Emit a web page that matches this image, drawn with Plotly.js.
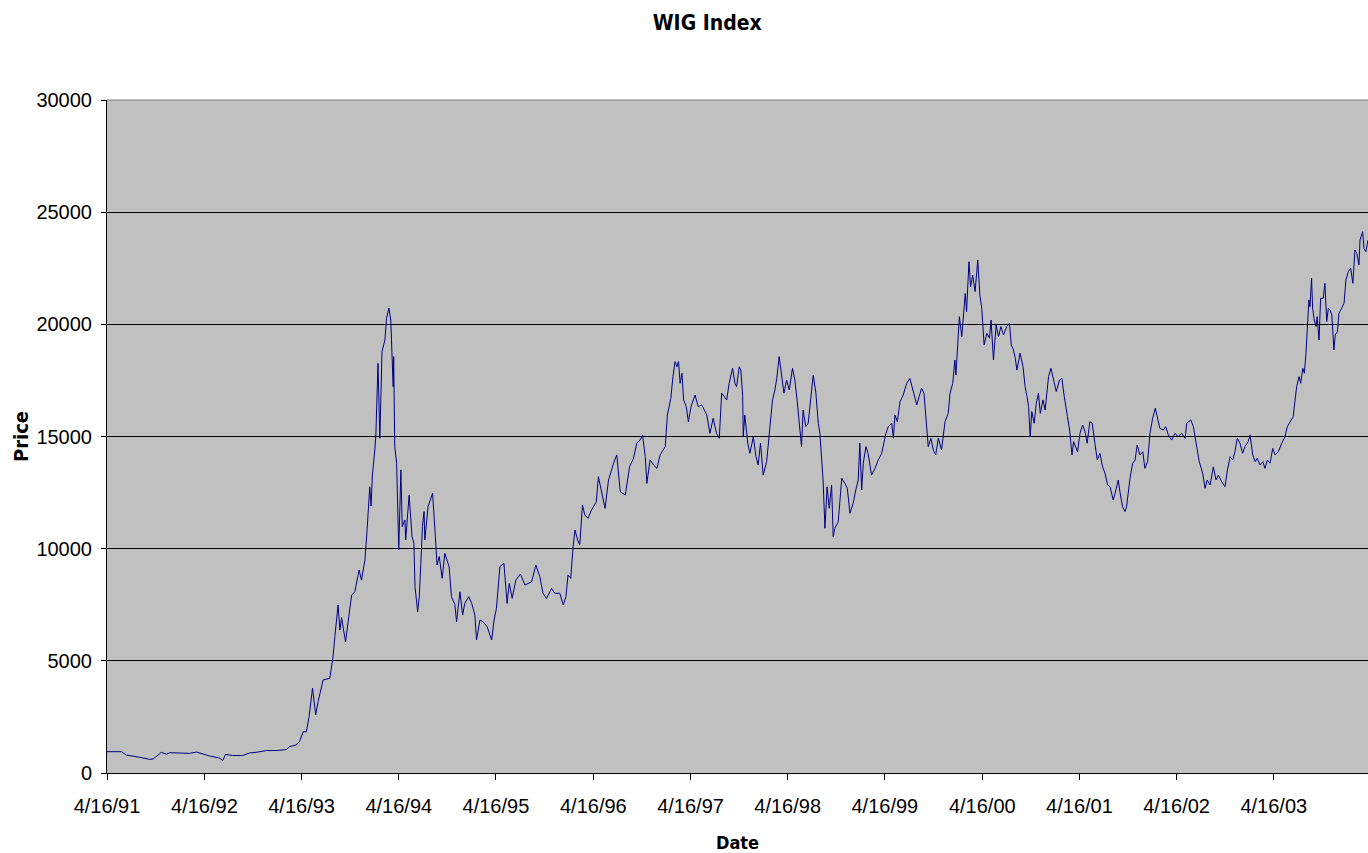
<!DOCTYPE html>
<html>
<head>
<meta charset="utf-8">
<script src="https://cdn.plot.ly/plotly-3.0.1.min.js"></script>
<style>html,body{margin:0;padding:0;background:#fff;}#chart{width:1368px;height:853px;}</style>
</head>
<body>
<div id="chart"></div>
<script>
const dates = [
"1991-04-16","1991-06-09","1991-06-28","1991-07-23","1991-08-17","1991-09-23","1991-10-06","1991-11-06","1991-11-25","1991-12-08",
"1992-01-02","1992-01-27","1992-02-21","1992-03-17","1992-04-11","1992-05-05","1992-06-11","1992-06-24","1992-07-04","1992-07-31",
"1992-09-07","1992-10-02","1992-10-27","1992-12-04","1993-01-10","1993-02-17","1993-03-01","1993-03-27","1993-04-08","1993-04-22",
"1993-05-04","1993-05-14","1993-05-27","1993-06-08","1993-06-17","1993-07-06","1993-07-31","1993-08-12","1993-08-19","1993-08-31",
"1993-09-07","1993-09-13","1993-09-28","1993-10-12","1993-10-21","1993-11-02","1993-11-18","1993-11-27","1993-12-10","1993-12-18",
"1993-12-28","1994-01-02","1994-01-07","1994-01-16","1994-01-20","1994-01-28","1994-02-04","1994-02-12","1994-02-23","1994-03-01",
"1994-03-10","1994-03-17","1994-03-26","1994-03-28","1994-04-01","1994-04-08","1994-04-16","1994-04-24","1994-04-29","1994-05-09",
"1994-05-12","1994-05-25","1994-06-05","1994-06-12","1994-06-16","1994-06-26","1994-07-02","1994-07-08","1994-07-14","1994-07-20",
"1994-07-23","1994-08-04","1994-08-21","1994-08-30","1994-09-07","1994-09-15","1994-09-26","1994-10-06","1994-10-22","1994-10-31",
"1994-11-13","1994-11-19","1994-12-02","1994-12-12","1994-12-20","1995-01-04","1995-01-15","1995-01-27","1995-02-02","1995-02-15",
"1995-02-27","1995-03-14","1995-03-31","1995-04-09","1995-04-18","1995-05-01","1995-05-16","1995-05-28","1995-06-05","1995-06-16",
"1995-06-30","1995-07-17","1995-08-03","1995-08-28","1995-09-13","1995-09-28","1995-10-10","1995-10-23","1995-11-11","1995-11-23",
"1995-12-12","1995-12-25","1996-01-04","1996-01-12","1996-01-22","1996-01-31","1996-02-07","1996-02-17","1996-02-25","1996-03-06",
"1996-03-15","1996-03-27","1996-04-09","1996-04-27","1996-05-05","1996-05-30","1996-06-12","1996-07-01","1996-07-13","1996-07-26",
"1996-08-14","1996-08-30","1996-09-14","1996-09-26","1996-10-09","1996-10-18","1996-10-28","1996-11-03","1996-11-15","1996-11-28",
"1996-12-11","1996-12-23","1997-01-11","1997-01-19","1997-02-01","1997-02-09","1997-02-17","1997-02-24","1997-03-02","1997-03-08",
"1997-03-15","1997-03-21","1997-03-31","1997-04-08","1997-04-18","1997-05-03","1997-05-15","1997-05-28","1997-06-16","1997-06-28",
"1997-07-10","1997-07-23","1997-08-02","1997-08-11","1997-08-30","1997-09-08","1997-09-21","1997-09-30","1997-10-06","1997-10-16",
"1997-10-22","1997-10-29","1997-10-31","1997-11-06","1997-11-17","1997-11-25","1997-12-08","1997-12-18","1997-12-26","1998-01-04",
"1998-01-14","1998-01-27","1998-02-06","1998-02-18","1998-02-27","1998-03-06","1998-03-15","1998-03-24","1998-04-02","1998-04-12",
"1998-04-22","1998-05-04","1998-05-13","1998-05-22","1998-05-29","1998-06-07","1998-06-13","1998-06-23","1998-07-02","1998-07-12",
"1998-07-21","1998-07-31","1998-08-09","1998-08-15","1998-08-21","1998-08-27","1998-09-03","1998-09-11","1998-09-19","1998-09-28",
"1998-10-04","1998-10-10","1998-10-23","1998-11-05","1998-11-17","1998-11-26","1998-12-06","1998-12-18","1998-12-28","1999-01-06",
"1999-01-12","1999-01-19","1999-01-25","1999-02-04","1999-02-12","1999-02-25","1999-03-10","1999-03-22","1999-04-04","1999-04-13",
"1999-04-20","1999-04-29","1999-05-12","1999-05-18","1999-05-24","1999-06-02","1999-06-12","1999-06-24","1999-07-07","1999-07-19",
"1999-08-01","1999-08-14","1999-08-23","1999-09-01","1999-09-10","1999-09-20","1999-09-26","1999-10-06","1999-10-15","1999-10-24",
"1999-11-03","1999-11-15","1999-11-21","1999-11-28","1999-12-10","1999-12-17","1999-12-27","2000-01-04","2000-01-08","2000-01-15",
"2000-01-21","2000-01-30","2000-02-07","2000-02-12","2000-02-17","2000-02-26","2000-03-03","2000-03-11","2000-03-20","2000-03-30",
"2000-04-07","2000-04-14","2000-04-23","2000-05-03","2000-05-13","2000-05-19","2000-05-28","2000-06-07","2000-06-16","2000-06-25",
"2000-07-05","2000-07-17","2000-07-27","2000-08-03","2000-08-11","2000-08-18","2000-08-24","2000-09-05","2000-09-16","2000-09-24",
"2000-10-01","2000-10-07","2000-10-13","2000-10-19","2000-10-28","2000-11-05","2000-11-13","2000-11-20","2000-11-30","2000-12-08",
"2000-12-21","2000-12-30","2001-01-09","2001-01-19","2001-01-31","2001-02-09","2001-02-18","2001-02-25","2001-03-02","2001-03-10",
"2001-03-19","2001-03-25","2001-03-31","2001-04-09","2001-04-18","2001-04-28","2001-05-07","2001-05-15","2001-05-25","2001-06-03",
"2001-06-13","2001-06-22","2001-07-02","2001-07-12","2001-07-21","2001-07-31","2001-08-09","2001-08-21","2001-08-31","2001-09-09",
"2001-09-15","2001-09-25","2001-10-04","2001-10-10","2001-10-23","2001-11-02","2001-11-11","2001-11-19","2001-11-29","2001-12-10",
"2001-12-18","2001-12-28","2002-01-06","2002-01-16","2002-01-26","2002-02-04","2002-02-12","2002-02-25","2002-03-06","2002-03-16",
"2002-03-28","2002-04-10","2002-04-22","2002-05-05","2002-05-18","2002-05-24","2002-06-08","2002-06-18","2002-06-24","2002-07-01",
"2002-07-10","2002-07-23","2002-08-01","2002-08-09","2002-08-20","2002-09-01","2002-09-11","2002-09-20","2002-10-02","2002-10-15",
"2002-10-24","2002-11-03","2002-11-13","2002-11-21","2002-11-30","2002-12-10","2002-12-20","2002-12-29","2003-01-10","2003-01-17",
"2003-01-27","2003-02-05","2003-02-13","2003-02-23","2003-03-06","2003-03-14","2003-03-23","2003-04-02","2003-04-12","2003-04-21",
"2003-05-03","2003-05-16","2003-05-28","2003-06-06","2003-06-20","2003-06-28","2003-07-05","2003-07-11","2003-07-20","2003-07-26",
"2003-08-03","2003-08-09","2003-08-15","2003-08-20","2003-08-26","2003-08-30","2003-09-05","2003-09-09","2003-09-15","2003-09-22",
"2003-09-26","2003-10-03","2003-10-09","2003-10-19","2003-10-25","2003-11-01","2003-11-07","2003-11-13","2003-11-20","2003-11-28",
"2003-12-03","2003-12-11","2003-12-17","2003-12-27","2004-01-05","2004-01-12","2004-01-21","2004-01-30","2004-02-07","2004-02-15",
"2004-02-22","2004-03-01","2004-03-05","2004-03-15","2004-03-20","2004-03-27","2004-04-04"
];
const prices = [
950,950,800,760,700,610,620,920,840,905,
900,905,875,935,840,760,670,550,830,780,
780,890,920,1000,1000,1040,1170,1250,1400,1840,
1840,2510,3780,2590,3180,4150,4220,5180,6080,7490,
6370,6930,5850,7120,7930,8080,9050,8600,9500,10830,
12760,11900,13280,14400,15070,18260,14920,18780,19300,20270,
20720,20190,17220,18560,14550,13810,9940,13510,10980,11280,
10390,12390,10530,10240,8300,7190,7850,9350,10980,11650,
10390,11870,12470,10830,9270,9650,8680,9790,9200,7860,
7500,6740,8080,7040,7560,7860,7560,7040,5930,6820,
6740,6520,5930,6820,7340,9200,9350,7560,8450,7790,
8600,8870,8380,8520,9270,8750,8010,7780,8230,8010,
8010,7490,7860,8830,8680,10090,10830,10390,10160,11950,
11500,11350,11720,12090,13210,11800,13060,13810,14180,12540,
12390,13650,14030,14700,14850,15070,14100,12910,13960,13730,
13580,14180,14550,15960,16700,17670,18340,18110,18340,17370,
17820,16630,16330,15660,16330,16850,16330,16410,15960,15140,
15810,15140,14920,16930,16630,17370,18040,17370,17220,18110,
17960,16780,14990,15960,14700,14250,14990,14100,13730,14700,
13280,13880,15290,16630,17070,17590,18560,17820,16930,17520,
17070,18040,17520,16550,15590,14550,16180,15440,15590,16780,
17740,16930,15590,15140,14250,13060,10910,12760,11800,12840,
10530,10910,11200,13140,12910,12690,11580,12020,12620,13060,
14700,12620,13810,14550,14250,13280,13580,13950,14250,14700,
15140,15440,15590,14920,15960,15660,16550,16850,17370,17590,
16930,16410,16780,17150,16930,15590,14550,14920,14400,14180,
14920,14400,14990,15660,16030,16930,17370,18410,17740,19000,
20340,19450,20560,21380,20560,22790,21680,22200,21460,22870,
21310,20720,19080,19600,19380,20190,18410,19970,19450,19900,
19530,19900,20050,19080,18860,18490,17960,18710,18110,17220,
16780,16330,14990,16110,15590,16480,16930,16030,16630,16180,
17670,18040,17520,17000,17520,17590,16780,16330,15880,15290,
14180,14770,14550,14320,15140,15510,15220,14700,15660,15590,
14700,13950,14250,13650,13360,12840,12760,12170,12620,13060,
12540,11870,11650,11870,13140,13810,13950,14620,14180,14320,
13580,13880,15140,15810,16260,15810,15370,15290,15440,15070,
14840,15140,14990,15140,14920,15590,15740,15440,14990,14400,
13880,13360,12690,13060,12840,13650,13060,13280,12990,12760,
13510,14100,13950,14320,14920,14700,14250,14550,14770,15070,
14180,13880,14030,13730,13880,13580,13950,13810,14470,14180,
14320,14700,14990,15440,15740,15880,16630,17220,17670,17370,
18040,17820,18710,19600,21090,20790,22050,20720,20190,19900,
20340,19300,21160,21160,21830,20120,20720,20640,20420,18860,
19530,19670,20490,20720,20940,21980,22350,22500,21830,23310,
23170,22650,23760,24130,23390,23240,23760
];
const tickDates = ["1991-04-16","1992-04-16","1993-04-16","1994-04-16","1995-04-16","1996-04-16","1997-04-16","1998-04-16","1999-04-16","2000-04-16","2001-04-16","2002-04-16","2003-04-16"];
const tickLabels = ["4/16/91","4/16/92","4/16/93","4/16/94","4/16/95","4/16/96","4/16/97","4/16/98","4/16/99","4/16/00","4/16/01","4/16/02","4/16/03"];
const yTicks = [0,5000,10000,15000,20000,25000,30000];

const BOLD = '"DejaVu Sans Condensed", "DejaVu Sans", sans-serif';
const TICK = '"Liberation Sans", Arial, sans-serif';

Plotly.newPlot('chart', [{
  x: dates, y: prices, type: 'scatter', mode: 'lines',
  line: {color: '#000080', width: 1}, hoverinfo: 'x+y'
}], {
  width: 1368, height: 853,
  margin: {l: 107, r: 0, t: 100, b: 80},
  paper_bgcolor: '#ffffff', plot_bgcolor: '#c0c0c0',
  font: {family: TICK, color: '#000', size: 20},
  showlegend: false,
  title: {text: '<b>WIG Index</b>', font: {family: BOLD, size: 21, color: '#000'},
          x: 0.517, xref: 'container', xanchor: 'center', y: 0.974, yref: 'container', yanchor: 'middle'},
  xaxis: {
    type: 'date', range: ['1991-04-16', '2004-04-04'],
    tickmode: 'array', tickvals: tickDates, ticktext: tickLabels,
    ticks: 'outside', ticklen: 6, tickcolor: '#000', tickwidth: 1,
    showline: true, linecolor: '#000', linewidth: 1,
    showgrid: false, zeroline: false, ticklabelstandoff: 9,
    tickfont: {family: TICK, size: 20, color: '#000'},
    title: {text: '<b>Date</b>', font: {family: BOLD, size: 18, color: '#000'}, standoff: 20}
  },
  yaxis: {
    range: [0, 30000], tickmode: 'array', tickvals: yTicks, tickformat: 'd',
    ticks: 'outside', ticklen: 5, tickcolor: '#000', tickwidth: 1,
    showline: true, linecolor: '#000', linewidth: 1,
    showgrid: true, gridcolor: '#000', gridwidth: 1, zeroline: false, ticklabelstandoff: 5,
    tickfont: {family: TICK, size: 20, color: '#000'},
    title: {text: '<b>Price</b>', font: {family: BOLD, size: 20, color: '#000'}, standoff: 2}
  },
  shapes: [{type: 'line', xref: 'paper', yref: 'paper', x0: 0, x1: 1, y0: 1, y1: 1,
            line: {color: '#808080', width: 1}, layer: 'above'}]
}, {displayModeBar: false, staticPlot: true});
</script>
</body>
</html>
